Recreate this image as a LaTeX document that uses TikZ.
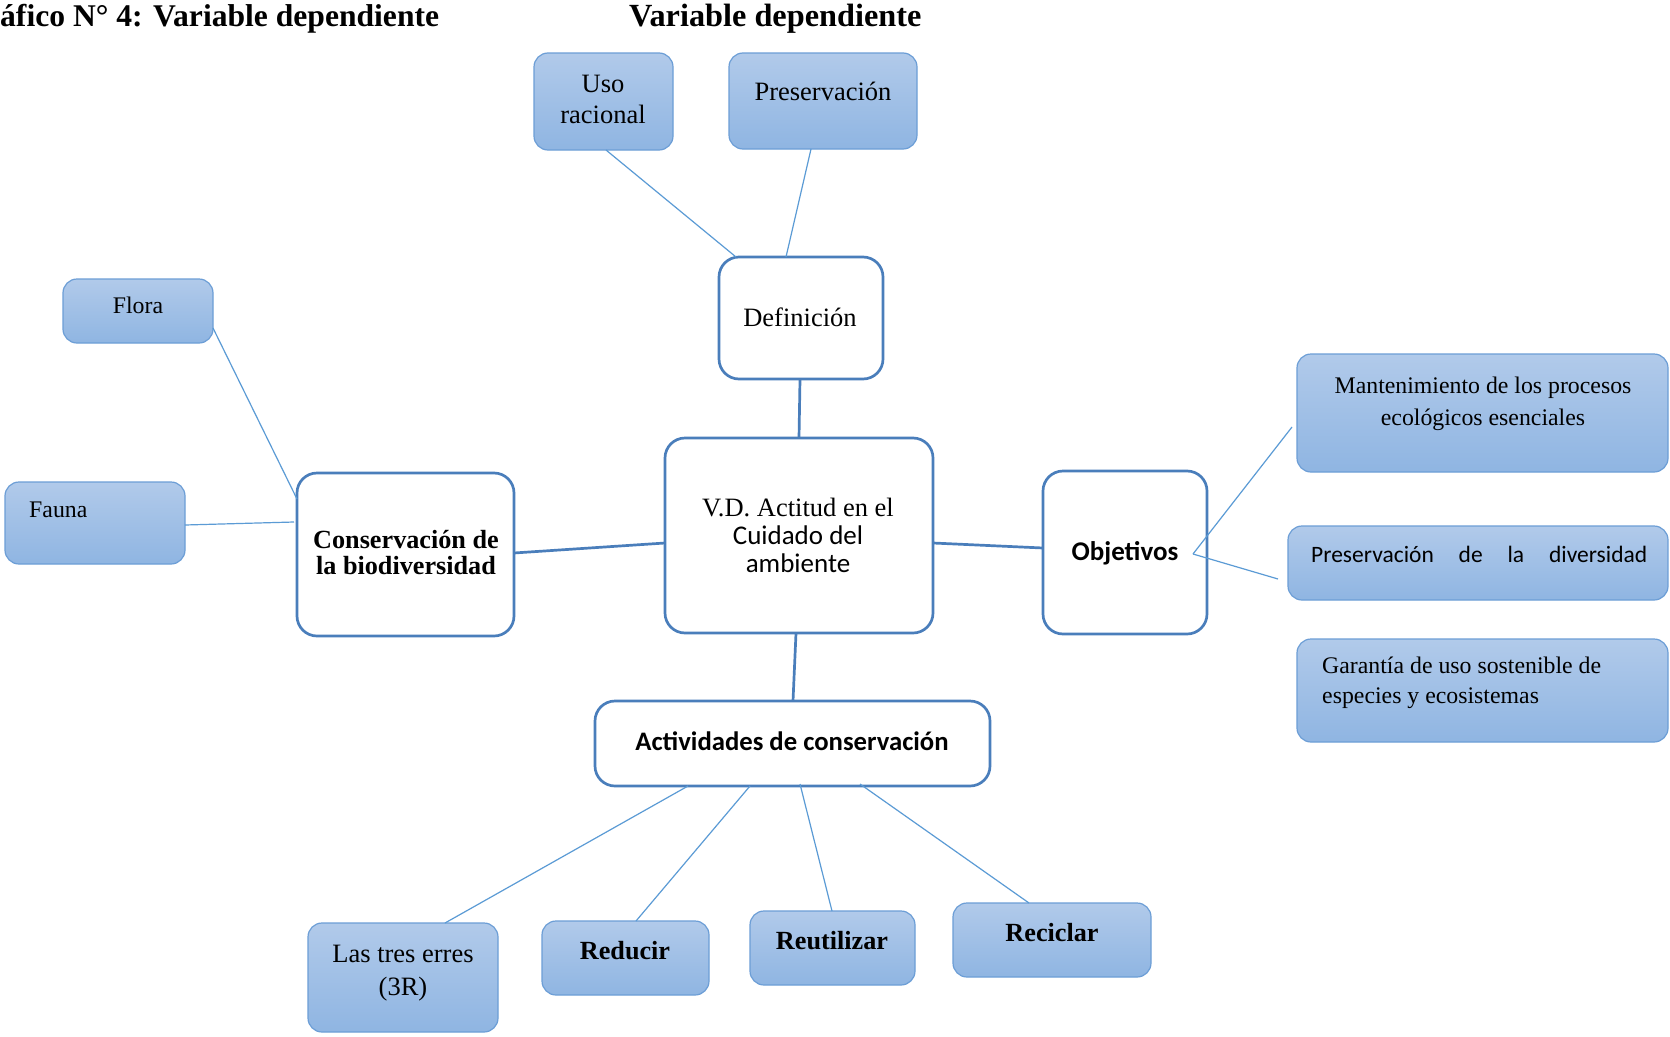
\documentclass[tikz,border=0pt]{standalone}
\usepackage{fontspec}
\setmainfont{Liberation Serif}
\newfontfamily\calib{Carlito}
\definecolor{wborder}{RGB}{74,126,187}
\definecolor{lineblue}{RGB}{91,155,213}
\definecolor{ftop}{RGB}{177,202,234}
\definecolor{fbot}{RGB}{143,181,226}
\definecolor{fborder}{RGB}{108,158,214}
\newcommand\mkbox[6]{\node[#2, minimum width={(#5-#3)*1pt}, minimum height={(#6-#4)*1pt}] (#1) at ({(#3+#5)/2},{(#4+#6)/2}) {};}
\tikzset{
 whitebox/.style={draw=wborder, line width=2.7pt, fill=white, rounded corners=20pt, inner sep=0pt, outer sep=0pt},
 fillbox/.style={draw=fborder, line width=1.2pt, top color=ftop, bottom color=fbot, rounded corners=14pt, inner sep=0pt, outer sep=0pt},
 mainlink/.style={draw=wborder, line width=2.7pt},
 sublink/.style={draw=lineblue, line width=1.2pt},
 tx/.style={anchor=base, inner sep=0pt, font=\fontsize{26.5}{31}\selectfont},
 txs/.style={anchor=base, inner sep=0pt, font=\fontsize{23.8}{29}\selectfont},
 txb/.style={anchor=base, inner sep=0pt, font=\bfseries\fontsize{26.2}{31}\selectfont},
 txc/.style={anchor=base, inner sep=0pt, font=\calib\fontsize{27}{31}\selectfont},
 txcb/.style={anchor=base, inner sep=0pt, font=\calib\bfseries\fontsize{26.7}{31}\selectfont},
 ttl/.style={anchor=base west, inner sep=0pt, font=\bfseries\fontsize{31.6}{36}\selectfont},
}
\begin{document}
\begin{tikzpicture}[x=1pt,y=-1pt]
\useasboundingbox[fill=white] (0,0) rectangle (1670,1036);
% title
\node[ttl] (t1) at (0,27) {áfico N° 4: Variable dependiente};
\node[ttl, font=\bfseries\fontsize{32.3}{36}\selectfont] (t2) at (629,27) {Variable dependiente};
% boxes
\mkbox{uso}{fillbox}{534}{53}{673}{150}
\mkbox{pres}{fillbox}{729}{53}{917}{149}
\mkbox{def}{whitebox}{719}{257}{883}{379}
\mkbox{vd}{whitebox}{665}{438}{933}{633}
\mkbox{cons}{whitebox}{297}{473}{514}{636}
\mkbox{flora}{fillbox}{63}{279}{213}{343}
\mkbox{fauna}{fillbox}{5}{482}{185}{564}
\mkbox{obj}{whitebox}{1043}{471}{1207}{634}
\mkbox{mant}{fillbox}{1297}{354}{1668}{472}
\mkbox{pdiv}{fillbox}{1288}{526}{1668}{600}
\mkbox{gar}{fillbox}{1297}{639}{1668}{742}
\mkbox{act}{whitebox}{595}{701}{990}{786}
\mkbox{tres}{fillbox}{308}{923}{498}{1032}
\mkbox{red}{fillbox}{542}{921}{709}{995}
\mkbox{reu}{fillbox}{750}{911}{915}{985}
\mkbox{rec}{fillbox}{953}{903}{1151}{977}
% main connectors
\draw[mainlink] (def.south -| 800,0) -- (vd.north -| 799,0);
\draw[mainlink] (cons.east |- 0,553) -- (vd.west |- 0,543);
\draw[mainlink] (vd.east |- 0,543) -- (obj.west |- 0,548);
\draw[mainlink] (vd.south -| 796,0) -- (act.north -| 793,0);
% sub connectors
\draw[sublink] (uso.south -| 606,0) -- (def.north -| 736,0);
\draw[sublink] (pres.south -| 811,0) -- (def.north -| 786,0);
\draw[sublink] (flora.east |- 0,328) -- (cons.west |- 0,499);
\draw[sublink] (fauna.east |- 0,525) -- (294,522);
\coordinate (objp) at (1193,554);
\coordinate (mantend) at (1292,427);
\coordinate (pdivend) at (1278,579);
\draw[sublink] (objp) -- (mantend);
\draw[sublink] (objp) -- (pdivend);
\draw[sublink] (act.south -| 688,0) -- (tres.north -| 445,0);
\draw[sublink] (act.south -| 750,0) -- (red.north -| 636,0);
\draw[sublink] (800,784) -- (reu.north -| 832,0);
\draw[sublink] (860,784) -- (rec.north -| 1029,0);
% texts
\node[tx] (usoa) at (603,92) {Uso};
\node[tx] (usob) at (603,123) {racional};
\node[tx] (prest) at (823,100) {Preservación};
\node[tx] (deft) at (800,326) {Definición};
\node[tx] (vda) at (798,516) {V.D. Actitud en el};
\node[txc] (vdb) at (798,544) {Cuidado del};
\node[txc] (vdc) at (798,572) {ambiente};
\node[txb] (consa) at (406,548) {Conservación de};
\node[txb] (consb) at (406,574) {la biodiversidad};
\node[txs] (florat) at (138,313) {Flora};
\node[txs, anchor=base west] (faunat) at (29,517) {Fauna};
\node[txcb, font=\calib\bfseries\fontsize{27}{31}\selectfont] (objt) at (1125,560) {Objetivos};
\node[txs] (manta) at (1483,393) {Mantenimiento de los procesos};
\node[txs] (mantb) at (1483,425) {ecológicos esenciales};
\node[anchor=base west, inner sep=0pt, font=\calib\fontsize{23.5}{29}\selectfont] (pdivt) at (1311,562) {\makebox[336pt][s]{Preservación de la diversidad}};
\node[txs, anchor=base west] (gara) at (1322,673) {Garantía de uso sostenible de};
\node[txs, anchor=base west] (garb) at (1322,703) {especies y ecosistemas};
\node[txcb] (actt) at (792,750) {Actividades de conservación};
\node[tx] (tresa) at (403,962) {Las tres erres};
\node[tx] (tresb) at (403,995) {(3R)};
\node[txb] (redt) at (625,959) {Reducir};
\node[txb] (reut) at (832,949) {Reutilizar};
\node[txb] (rect) at (1052,941) {Reciclar};
\end{tikzpicture}
\end{document}
